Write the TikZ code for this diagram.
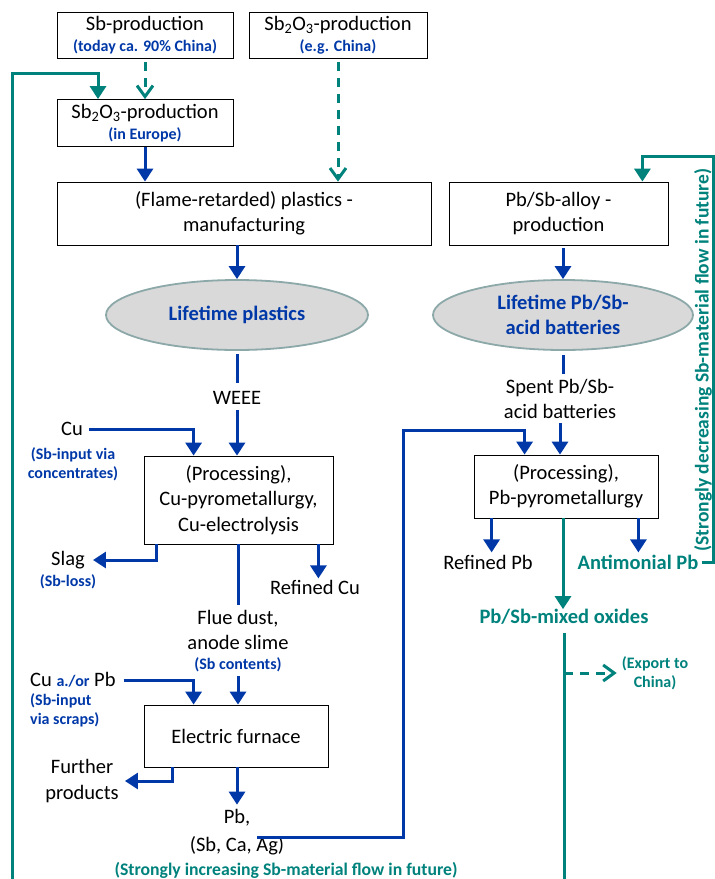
\documentclass[tikz,border=0pt]{standalone}
\usepackage{fontspec}
\setmainfont{Carlito}
\usetikzlibrary{arrows.meta,shapes.geometric}

\definecolor{sbblue}{RGB}{0,56,168}
\definecolor{sbteal}{RGB}{0,130,124}
\definecolor{lifegray}{RGB}{217,217,217}
\definecolor{lifeedge}{RGB}{140,168,168}

\newcommand{\bigtxt}{\fontsize{20.5}{25.5}\selectfont}
\newcommand{\notetxt}{\fontsize{16}{19}\selectfont\bfseries}
\newcommand{\sbnote}[1]{{\notetxt\color{sbblue}#1}}

\begin{document}
\begin{tikzpicture}[x=1pt,y=-1pt,
    procbox/.style={draw, line width=0.8pt, inner sep=0pt, align=center, font=\bigtxt},
    lifestage/.style={ellipse, draw=lifeedge, fill=lifegray, line width=1.8pt, inner sep=0pt,
        align=center, font=\bigtxt\bfseries, text=sbblue},
    plaintext/.style={inner sep=0pt, align=center, font=\bigtxt},
    bluenote/.style={inner sep=0pt, align=center, font=\notetxt, text=sbblue},
    tealtext/.style={inner sep=0pt, align=center, font=\bigtxt\bfseries, text=sbteal},
    tealnote/.style={inner sep=0pt, align=center, font=\notetxt, text=sbteal},
    blueline/.style={draw=sbblue, line width=3pt},
    bluearrow/.style={blueline, -{Triangle[length=13pt,width=16pt]}},
    tealline/.style={draw=sbteal, line width=3pt},
    tealarrow/.style={tealline, -{Triangle[length=13pt,width=16pt]}},
    tealdash/.style={tealline, dash pattern=on 9pt off 7pt,
        -{Straight Barb[length=11pt,width=16pt,line width=3pt]}}]
\useasboundingbox (0,0) rectangle (715,879);

% boxes
\node[procbox, minimum width=176pt, minimum height=46pt] (sbprod) at (145,35)
    {Sb-production\\[-5pt]\sbnote{(today ca. 90\% China)}};
\node[procbox, minimum width=178pt, minimum height=46pt] (sbchina) at (338,35)
    {Sb\textsubscript{2}O\textsubscript{3}-production\\[-5pt]\sbnote{(e.g. China)}};
\node[procbox, minimum width=176pt, minimum height=47pt] (sbeurope) at (145,123)
    {Sb\textsubscript{2}O\textsubscript{3}-production\\[-5pt]\sbnote{(in Europe)}};
\node[procbox, minimum width=374pt, minimum height=63pt] (plastics) at (244,213.5)
    {(Flame-retarded) plastics -\\manufacturing};
\node[procbox, minimum width=219pt, minimum height=63pt] (alloy) at (558.5,213.5)
    {Pb/Sb-alloy -\\production};
\node[lifestage, minimum width=262pt, minimum height=70pt] (lifeplast) at (237,315)
    {Lifetime plastics};
\node[lifestage, minimum width=260pt, minimum height=70pt] (lifebat) at (563,315)
    {Lifetime Pb/Sb-\\acid batteries};
\node[procbox, minimum width=189pt, minimum height=88pt] (cuproc) at (238.5,500)
    {(Processing),\\Cu-pyrometallurgy,\\Cu-electrolysis};
\node[procbox, minimum width=184pt, minimum height=63pt] (pbproc) at (566,486.5)
    {(Processing),\\Pb-pyrometallurgy};
\node[procbox, minimum width=184pt, minimum height=62pt] (furnace) at (236,736)
    {Electric furnace};

% texts
\node[plaintext] (weee) at (237,398) {WEEE};
\node[plaintext] (cu) at (72,429) {Cu};
\node[bluenote] (cunote) at (73,464) {(Sb-input via\\concentrates)};
\node[plaintext] (slag) at (68,560) {Slag};
\node[bluenote] (slagnote) at (68,582) {(Sb-loss)};
\node[plaintext] (refcu) at (315,587) {Refined Cu};
\node[plaintext] (flue) at (238,630) {Flue dust,\\anode slime};
\node[bluenote] (fluenote) at (238,665) {(Sb contents)};
\node[plaintext, anchor=west] (cupb) at (30,680) {Cu \sbnote{a./or} Pb};
\node[bluenote, align=left, anchor=north west] (scrapnote) at (30,693) {(Sb-input\\via scraps)};
\node[plaintext] (further) at (82,781) {Further\\products};
\node[plaintext] (pbout) at (237,832) {Pb,\\[3pt](Sb, Ca, Ag)};
\node[tealnote, font=\fontsize{17.7}{20}\selectfont\bfseries] (increase) at (286,870)
    {(Strongly increasing Sb-material flow in future)};
\node[plaintext] (spent) at (560,399) {Spent Pb/Sb-\\acid batteries};
\node[plaintext] (refpb) at (488,562) {Refined Pb};
\node[tealtext] (antipb) at (638,562) {Antimonial Pb};
\node[tealtext] (mixox) at (564,617) {Pb/Sb-mixed oxides};
\node[tealnote] (export) at (655,673) {(Export to\\China)};
\node[tealnote, font=\fontsize{19.5}{22}\selectfont\bfseries, rotate=90] (decrease) at (703,360)
    {(Strongly decreasing Sb-material flow in future)};

\coordinate (recycle) at (12,879);
\coordinate (recyclebend) at (98,73);
\coordinate (batin) at (403,430);
\coordinate (mixend) at (564,879);
\coordinate (decbend) at (713,156);

% connectors
\draw[tealdash, shorten <=4pt] (sbprod.south) -- (sbeurope.north);
\draw[tealdash, shorten <=4pt] (sbchina.south) -- (sbchina.south |- plastics.north);
\draw[tealarrow] (recycle) |- (recyclebend) -- (recyclebend |- sbeurope.north);
\draw[bluearrow] (sbeurope.south) -- (sbeurope.south |- plastics.north);
\draw[bluearrow] (plastics.south -| lifeplast.north) -- (lifeplast.north);
\draw[bluearrow, shorten <=3pt] (alloy.south -| lifebat.north) -- (lifebat.north);
\draw[blueline, shorten <=3pt, shorten >=8pt] (lifeplast.south) -- (weee.north);
\draw[bluearrow, shorten <=5pt] (weee.south) -- (cuproc.north -| weee.south);
\draw[bluearrow, shorten <=6pt] (cu.east) -| ([xshift=50pt]cuproc.north west);
\draw[bluearrow] ([xshift=13pt]cuproc.south west) |- ([xshift=8pt]slag.east);
\draw[bluearrow] ([xshift=-15pt]cuproc.south east) -- ++(0,34);
\draw[blueline, shorten >=5pt] (cuproc.south -| flue.north) -- (flue.north);
\draw[bluearrow, shorten <=4pt] (fluenote.south) -- (fluenote.south |- furnace.north);
\draw[bluearrow, shorten <=8pt] (cupb.east) -| ([xshift=50pt]furnace.north west);
\draw[bluearrow] ([xshift=29pt]furnace.south west) |- ([xshift=6pt]further.east);
\draw[bluearrow, shorten >=4pt] (furnace.south -| pbout.north) -- (pbout.north);
\draw[bluearrow] ([xshift=20pt, yshift=-5pt]pbout.center) -| (batin) -| ([xshift=51pt]pbproc.north west);
\draw[blueline, shorten <=4pt, shorten >=5pt] (lifebat.south) -- (lifebat.south |- spent.north);
\draw[bluearrow, shorten <=4pt] (spent.south) -- (spent.south |- pbproc.north);
\draw[bluearrow] ([xshift=18pt]pbproc.south west) -- ++(0,34);
\draw[bluearrow] ([xshift=-20pt]pbproc.south east) -- ++(0,34);
\draw[tealarrow] ([xshift=-3pt]pbproc.south) -- ([xshift=-3pt]pbproc.south |- mixox.north);
\draw[tealline, shorten <=8pt] (mixox.south) -- (mixox.south |- mixend);
\draw[tealdash, shorten >=5pt] (mixox.south |- export.west) -- (export.west);
\draw[tealarrow, shorten <=3pt] (antipb.east) -| (decbend) -| ([xshift=-26pt]alloy.north east);
\end{tikzpicture}
\end{document}
